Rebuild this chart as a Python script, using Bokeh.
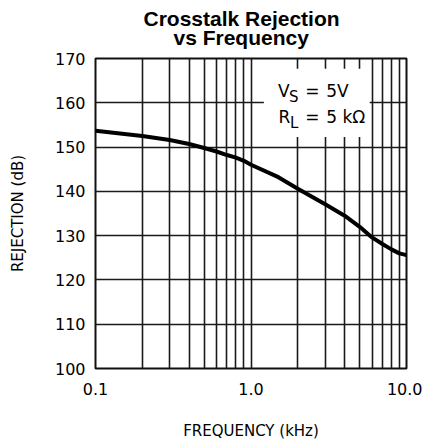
from bokeh.plotting import figure
from bokeh.models import FixedTicker, BoxAnnotation, Label, Title
from bokeh.embed import file_html
from bokeh.resources import INLINE

# ---- data ----
freq_khz = [0.1, 0.2, 0.3, 0.4, 0.5, 0.6, 0.7, 0.8, 0.9, 1.0,
            1.5, 2.0, 3.0, 4.0, 5.0, 6.0, 7.0, 8.0, 9.0, 10.0]
rejection_db = [153.7, 152.5, 151.6, 150.7, 149.8, 149.0, 148.2, 147.6, 146.9, 146.0,
                143.2, 140.6, 137.1, 134.5, 132.0, 129.6, 128.1, 126.9, 126.0, 125.6]

x_major_ticks = [0.1, 1.0, 10.0]
x_tick_labels = ["0.1", "1.0", "10.0"]
x_grid_ticks = [0.2, 0.3, 0.4, 0.5, 0.6, 0.7, 0.8, 0.9, 1.0,
                2.0, 3.0, 4.0, 5.0, 6.0, 7.0, 8.0, 9.0]
y_ticks = [100, 110, 120, 130, 140, 150, 160, 170]
y_grid_ticks = [110, 120, 130, 140, 150, 160]

title_lines = ["Crosstalk Rejection", "vs Frequency"]
x_label = "FREQUENCY (kHz)"
y_label = "REJECTION (dB)"

FONT = "DejaVu Sans"
TFONT = "Liberation Sans"

p = figure(width=422, height=442, x_axis_type="log",
           x_range=(0.1, 10.0), y_range=(100, 170),
           output_backend="svg", toolbar_location=None, title=None,
           min_border_left=95, min_border_right=16,
           min_border_top=58, min_border_bottom=74)

p.background_fill_color = "white"
p.border_fill_color = "white"
p.outline_line_color = "#111111"
p.outline_line_width = 2
p.outline_line_alpha = 1

# title: two lines, stacked above the frame
t2 = Title(text=title_lines[1], align="left", offset=78, standoff=19,
           text_font=TFONT, text_font_size="21px", text_font_style="bold",
           text_color="black")
t1 = Title(text=title_lines[0], align="left", offset=48, standoff=-31,
           text_font=TFONT, text_font_size="21px", text_font_style="bold",
           text_color="black")
p.add_layout(t2, "above")
p.add_layout(t1, "above")

# grids
p.xgrid.ticker = FixedTicker(ticks=x_grid_ticks)
p.ygrid.ticker = FixedTicker(ticks=y_grid_ticks)
for g in (p.xgrid, p.ygrid):
    g.grid_line_color = "#1a1a1a"
    g.grid_line_width = 1.6
    g.grid_line_alpha = 1

# axes
p.xaxis.ticker = FixedTicker(ticks=x_major_ticks)
p.xaxis.major_label_overrides = dict(zip(x_major_ticks, x_tick_labels))
p.yaxis.ticker = FixedTicker(ticks=y_ticks)
for ax in (p.xaxis, p.yaxis):
    ax.axis_line_color = None
    ax.major_tick_line_color = None
    ax.minor_tick_line_color = None
    ax.major_tick_out = 0
    ax.major_tick_in = 0
    ax.major_label_text_font = FONT
    ax.major_label_text_font_size = "16px"
    ax.major_label_text_color = "black"
    ax.axis_label_text_font = FONT
    ax.axis_label_text_font_size = "15px"
    ax.axis_label_text_font_style = "normal"
    ax.axis_label_text_color = "black"

p.yaxis.major_label_standoff = 10
p.xaxis.major_label_standoff = 14
p.xaxis.axis_label = x_label
p.yaxis.axis_label = y_label
p.xaxis.axis_label_standoff = 24
p.yaxis.axis_label_standoff = 25

# white inset box behind the conditions text
p.add_layout(BoxAnnotation(left=1.21, right=5.8, bottom=152.3, top=167.7,
                           fill_color="white", fill_alpha=1.0,
                           line_color=None, level="underlay"))

# curve
p.line(freq_khz, rejection_db, line_width=4, color="black",
       line_join="round", line_cap="round")

# conditions text
def lab(x, y, text, size="17px", xo=0, yo=0):
    p.add_layout(Label(x=x, y=y, text=text, x_offset=xo, y_offset=yo,
                       text_font=FONT, text_font_size=size,
                       text_color="black",
                       text_align="left", text_baseline="alphabetic"))

lab(1.49, 162.7, "V")
lab(1.49, 162.7, "S", size="15px", xo=11, yo=-6)
lab(2.23, 162.7, "=")
lab(3.05, 162.7, "5V")
lab(1.50, 156.9, "R")
lab(1.50, 156.9, "L", size="15px", xo=11.5, yo=-6)
lab(2.23, 156.9, "=")
lab(3.05, 156.9, "5 k\u03a9")

open("out.html", "w").write(file_html(p, INLINE))
